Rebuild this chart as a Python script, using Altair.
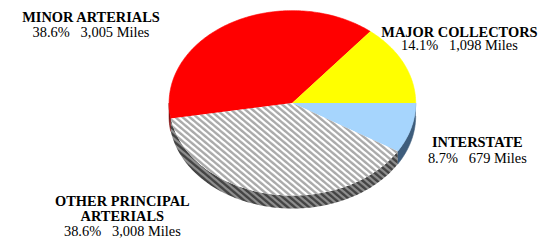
import math
import altair as alt
import pandas as pd

# ---------------- data ----------------
categories = ["INTERSTATE", "OTHER PRINCIPAL ARTERIALS", "MINOR ARTERIALS", "MAJOR COLLECTORS"]
miles = [679, 3008, 3005, 1098]
percent_labels = ["8.7%", "38.6%", "38.6%", "14.1%"]
name_lines = [["INTERSTATE"], ["OTHER PRINCIPAL", "ARTERIALS"], ["MINOR ARTERIALS"], ["MAJOR COLLECTORS"]]

# ---------------- styles / layout ----------------
top_colors = ["#A6D5FD", None, "#FF0000", "#FFFF00"]
side_colors = ["#3E5D7C", None, "#7A0000", "#8B8B00"]
HATCH_INDEX = 1
W, H = 530, 231
CX, CY, RX, RY, DEPTH = 286, 95, 124, 93, 13
label_x = [472, 115, 83.5, 454]
label_baselines = [[139, 155], [198, 214, 229], [13, 29], [29, 42]]
FONT = "Liberation Serif"
FONT_SIZE = 14.5
SP = "\u00a0\u00a0\u00a0"


def pt(t_deg, dy=0.0):
    t = math.radians(t_deg)
    return CX + RX * math.cos(t), CY - RY * math.sin(t) + dy


def arc(t0, t1):
    n = max(2, int(abs(t1 - t0)) + 1)
    return [pt(t0 + (t1 - t0) * k / n) for k in range(n + 1)]


total = float(sum(miles))
faces, sides = [], []
cum = 0.0
for i, (cat, m) in enumerate(zip(categories, miles)):
    t_start = -cum / total * 360.0
    cum += m
    t_end = -cum / total * 360.0
    faces.append([(CX, CY)] + arc(t_start, t_end))
    # visible side (lower half: -180 < t < 0)
    a, b = min(t_start, 0.0), max(t_end, -180.0)
    if a > b:
        top = arc(a, b)
        bot = [(x, y + DEPTH) for (x, y) in reversed(top)]
        sides.append(top + bot)
    else:
        sides.append(None)


def frame(polys, colors, idx_list):
    rows = []
    for i in idx_list:
        if polys[i] is None:
            continue
        for k, (x, y) in enumerate(polys[i]):
            rows.append({"slice": categories[i], "i": k, "x": x, "y": y, "c": colors[i] or "#000"})
    return pd.DataFrame(rows)


def hatch(points, slope, period, c_light, c_dark):
    xs = [p[0] for p in points]
    ys = [p[1] for p in points]
    bw, bh = max(xs) - min(xs), max(ys) - min(ys)
    gx, gy = slope * bw, -bh
    lam = (gx - gy) / (gx * gx + gy * gy)
    dist = abs(bw * slope + bh) / math.sqrt(1 + slope * slope)
    n = max(1, round(dist / period))
    stops = []
    for k in range(n):
        stops.append({"offset": (k + 0.05) / n, "color": c_light})
        stops.append({"offset": (k + 0.30) / n, "color": c_light})
        stops.append({"offset": (k + 0.50) / n, "color": c_dark})
        stops.append({"offset": (k + 0.80) / n, "color": c_dark})
    stops.append({"offset": 1.0, "color": c_light})
    return {"gradient": "linear", "x1": 0, "y1": 1, "x2": gx * lam, "y2": 1 + gy * lam, "stops": stops}


xs = alt.Scale(domain=[0, W], nice=False, zero=False)
ys = alt.Scale(domain=[0, H], nice=False, zero=False, reverse=True)
X = alt.X("x:Q", scale=xs, axis=None)
Y = alt.Y("y:Q", scale=ys, axis=None)

plain = [i for i in range(len(categories)) if i != HATCH_INDEX]

side_df = frame(sides, side_colors, plain)
face_df = frame(faces, top_colors, plain)
hside_df = frame(sides, side_colors, [HATCH_INDEX])
hface_df = frame(faces, top_colors, [HATCH_INDEX])

side_layer = alt.Chart(side_df).mark_line(filled=True, strokeWidth=0.6).encode(
    x=X, y=Y, order="i:Q", detail="slice:N",
    fill=alt.Fill("c:N", scale=None), stroke=alt.Stroke("c:N", scale=None))
face_layer = alt.Chart(face_df).mark_line(filled=True, strokeWidth=0.6).encode(
    x=X, y=Y, order="i:Q", detail="slice:N",
    fill=alt.Fill("c:N", scale=None), stroke=alt.Stroke("c:N", scale=None))

hside_grad = hatch(sides[HATCH_INDEX], 0.84, 4.6, "#8E8E8E", "#444444")
hface_grad = hatch(faces[HATCH_INDEX], 0.84, 4.6, "#FFFFFF", "#ABABAB")
hside_layer = alt.Chart(hside_df).mark_line(filled=True, fill=hside_grad, strokeWidth=0).encode(
    x=X, y=Y, order="i:Q")
hface_layer = alt.Chart(hface_df).mark_line(filled=True, fill=hface_grad, strokeWidth=0).encode(
    x=X, y=Y, order="i:Q")

bold_rows, reg_rows = [], []
for i in range(len(categories)):
    bl = label_baselines[i]
    for j, line in enumerate(name_lines[i]):
        bold_rows.append({"x": label_x[i], "y": bl[j], "t": line})
    reg_rows.append({"x": label_x[i], "y": bl[len(name_lines[i])],
                     "t": f"{percent_labels[i]}{SP}{miles[i]:,} Miles"})

bold_text = alt.Chart(pd.DataFrame(bold_rows)).mark_text(
    font=FONT, fontSize=FONT_SIZE, fontWeight="bold", baseline="alphabetic", align="center", color="#000000"
).encode(x=X, y=Y, text="t:N")
reg_text = alt.Chart(pd.DataFrame(reg_rows)).mark_text(
    font=FONT, fontSize=FONT_SIZE, baseline="alphabetic", align="center", color="#000000"
).encode(x=X, y=Y, text="t:N")

chart = alt.layer(side_layer, hside_layer, face_layer, hface_layer, bold_text, reg_text).properties(
    width=W, height=H, padding=0, background="#FFFFFF"
).configure_view(stroke=None)

chart.save("out.html", embed_options={"renderer": "svg", "actions": False})
